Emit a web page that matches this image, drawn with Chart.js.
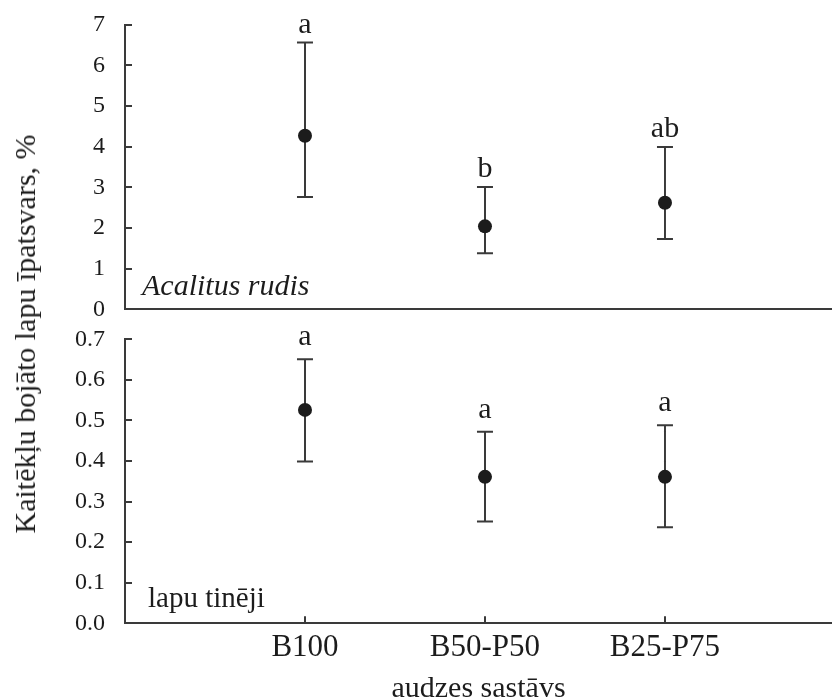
<!DOCTYPE html>
<html lang="lv">
<head>
<meta charset="utf-8">
<title>Kaitēkļu bojāto lapu īpatsvars</title>
<script src="https://cdn.jsdelivr.net/npm/chart.js@4.4.1/dist/chart.umd.min.js"></script>
<style>
  html, body { margin: 0; padding: 0; background: #fff; }
  body { width: 832px; height: 700px; overflow: hidden; position: relative; font-family: 'Liberation Serif', 'Times New Roman', serif; }
  #panelTop { position: absolute; left: 0; top: 0; }
  #panelBottom { position: absolute; left: 0; top: 320px; }
  #yTitle { position: absolute; left: 25px; top: 334px; transform: translate(-50%, -50%) rotate(-90deg); white-space: nowrap; font-size: 30px; color: #1c1c1c; }
</style>
</head>
<body>
<canvas id="panelTop" width="832" height="330"></canvas>
<canvas id="panelBottom" width="832" height="400"></canvas>
<div id="yTitle">Kaitēkļu bojāto lapu īpatsvars, %</div>
<script>
// kategorijas (audzes sastāvs)
var categories = ['B100', 'B50-P50', 'B25-P75'];
var catPos = [1, 2, 3];

// Acalitus rudis: vidējais un ticamības intervāls
var acalitusMean = [4.27, 2.04, 2.62];
var acalitusLow = [2.76, 1.38, 1.73];
var acalitusHigh = [6.56, 3.01, 3.99];
var acalitusLetters = ['a', 'b', 'ab'];
var acalitusTicks = [0, 1, 2, 3, 4, 5, 6, 7];
var acalitusTickLabels = ['0', '1', '2', '3', '4', '5', '6', '7'];

// lapu tinēji
var tineMean = [0.526, 0.361, 0.361];
var tineLow = [0.399, 0.251, 0.237];
var tineHigh = [0.651, 0.472, 0.488];
var tineLetters = ['a', 'a', 'a'];
var tineTicks = [0, 0.1, 0.2, 0.3, 0.4, 0.5, 0.6, 0.7];
var tineTickLabels = ['0.0', '0.1', '0.2', '0.3', '0.4', '0.5', '0.6', '0.7'];

var INK = '#1c1c1c';
var LINE = '#3a3a3a';
var SERIF = "'Liberation Serif', 'Times New Roman', serif";

function makePanel(id, cfg) {
  var whisker = [], caps = [];
  catPos.forEach(function(x, i) {
    whisker.push({ x: x, y: cfg.low[i] }, { x: x, y: cfg.high[i] }, { x: x + 0.5, y: null });
    caps.push({ x: x, y: cfg.low[i] }, { x: x, y: cfg.high[i] });
  });
  var means = catPos.map(function(x, i) { return { x: x, y: cfg.mean[i] }; });

  // iekšējās atzīmes, burti virs intervāliem, paneļa nosaukums
  var deco = {
    id: 'deco',
    afterDatasetsDraw: function(chart) {
      var ctx = chart.ctx, xs = chart.scales.x, ys = chart.scales.y, a = chart.chartArea;
      ctx.save();
      ctx.strokeStyle = LINE;
      ctx.lineWidth = 2;
      ctx.beginPath();
      cfg.ticks.forEach(function(v) {
        var y = Math.round(ys.getPixelForValue(v));
        ctx.moveTo(a.left, y); ctx.lineTo(a.left + 7, y);
      });
      if (cfg.showX) {
        catPos.forEach(function(v) {
          var x = Math.round(xs.getPixelForValue(v));
          ctx.moveTo(x, a.bottom); ctx.lineTo(x, a.bottom - 7);
        });
      }
      ctx.stroke();

      ctx.fillStyle = INK;
      ctx.font = '30px ' + SERIF;
      ctx.textAlign = 'center';
      ctx.textBaseline = 'alphabetic';
      cfg.letters.forEach(function(t, i) {
        ctx.fillText(t, xs.getPixelForValue(catPos[i]), ys.getPixelForValue(cfg.high[i]) - cfg.gap);
      });

      ctx.textAlign = 'left';
      ctx.font = cfg.labelFont;
      ctx.fillText(cfg.label, a.left + cfg.labelDx, a.bottom - cfg.labelDy);
      ctx.restore();
    }
  };

  return new Chart(document.getElementById(id), {
    type: 'scatter',
    data: {
      datasets: [
        { data: means, pointRadius: 7, pointBackgroundColor: INK, pointBorderWidth: 0, showLine: false },
        { data: caps, pointStyle: 'line', pointRadius: 8, pointBorderColor: LINE, pointBorderWidth: 2, showLine: false },
        { data: whisker, showLine: true, spanGaps: false, borderColor: LINE, borderWidth: 2, pointRadius: 0 }
      ]
    },
    options: {
      responsive: false,
      animation: false,
      events: [],
      layout: { padding: cfg.padding, autoPadding: false },
      plugins: { legend: { display: false }, tooltip: { enabled: false } },
      scales: {
        x: {
          type: 'linear', min: 0, max: 3.928,
          grid: { display: false, drawTicks: false },
          border: { display: true, color: LINE, width: 2 },
          afterBuildTicks: function(s) { s.ticks = catPos.map(function(v) { return { value: v }; }); },
          ticks: {
            display: cfg.showX, padding: 6, color: INK, font: { family: SERIF, size: 31 },
            callback: function(v) { return categories[catPos.indexOf(v)]; }
          },
          title: {
            display: cfg.showX, text: 'audzes sastāvs', color: INK,
            font: { family: SERIF, size: 30 }, padding: { top: 0, bottom: 13 }
          },
          afterFit: function(s) { s.height = cfg.xHeight; s.paddingLeft = 0; s.paddingRight = 0; }
        },
        y: {
          min: cfg.ticks[0], max: cfg.ticks[cfg.ticks.length - 1],
          grid: { display: false, drawTicks: false },
          border: { display: true, color: LINE, width: 2 },
          afterBuildTicks: function(s) { s.ticks = cfg.ticks.map(function(v) { return { value: v }; }); },
          ticks: {
            padding: 20, color: INK, font: { family: SERIF, size: 24 },
            callback: function(v, i) { return cfg.tickLabels[i]; }
          },
          afterFit: function(s) { s.width = 125; s.paddingTop = 0; s.paddingBottom = 0; }
        }
      }
    },
    plugins: [deco]
  });
}

makePanel('panelTop', {
  mean: acalitusMean, low: acalitusLow, high: acalitusHigh, letters: acalitusLetters,
  ticks: acalitusTicks, tickLabels: acalitusTickLabels,
  label: 'Acalitus rudis', labelFont: 'italic 30px ' + SERIF, labelDx: 17, labelDy: 14,
  gap: 10, showX: false, xHeight: 10,
  padding: { top: 24.7, bottom: 10.7, left: 0, right: 0 }
});

makePanel('panelBottom', {
  mean: tineMean, low: tineLow, high: tineHigh, letters: tineLetters,
  ticks: tineTicks, tickLabels: tineTickLabels,
  label: 'lapu tinēji', labelFont: '29px ' + SERIF, labelDx: 23, labelDy: 16,
  gap: 14, showX: true, xHeight: 96.7,
  padding: { top: 19.3, bottom: 0, left: 0, right: 0 }
});
</script>
</body>
</html>
